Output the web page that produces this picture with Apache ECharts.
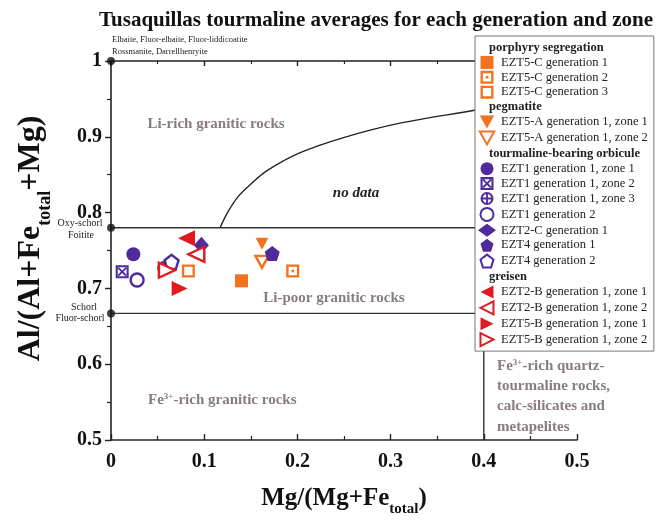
<!DOCTYPE html>
<html>
<head>
<meta charset="utf-8">
<script src="https://cdn.jsdelivr.net/npm/echarts@6/dist/echarts.min.js"></script>
<style>
  html, body { margin: 0; padding: 0; background: #fff; }
  #chart { width: 661px; height: 522px; }
</style>
</head>
<body>
<div id="chart"></div>
<script>
// Averages: [Mg/(Mg+Fe_total), Al/(Al+Fe_total+Mg)]
const EZT5C_G1 = [[0.140, 0.710]];
const EZT5C_G2 = [[0.195, 0.723]];
const EZT5C_G3 = [[0.083, 0.723]];
const EZT5A_G1Z1 = [[0.162, 0.759]];
const EZT5A_G1Z2 = [[0.162, 0.735]];
const EZT1_G1Z1 = [[0.024, 0.745]];
const EZT1_G1Z2 = [[0.012, 0.722]];
const EZT1_G1Z3 = [[0.057, 0.727]];
const EZT1_G2 = [[0.028, 0.711]];
const EZT2C_G1 = [[0.097, 0.757]];
const EZT4_G1 = [[0.173, 0.746]];
const EZT4_G2 = [[0.065, 0.735]];
const EZT2B_G1Z1 = [[0.081, 0.766]];
const EZT2B_G1Z2 = [[0.0915, 0.745]];
const EZT5B_G1Z1 = [[0.0736, 0.700]];
const EZT5B_G1Z2 = [[0.060, 0.724]];

// Field boundaries of the classification diagram
const oxySchorlLine = [[0, 0.78], [0.4, 0.78]];
const schorlLine = [[0, 0.667], [0.4, 0.667]];
const fe3Line = [[0.4, 0.5], [0.4, 1]];
const liRichCurveX = [0.117, 0.125, 0.137, 0.1495, 0.167, 0.203, 0.2496, 0.310, 0.3855, 0.40];
const liRichCurveY = [0.78, 0.800, 0.822, 0.837, 0.855, 0.879, 0.899, 0.918, 0.934, 0.937];
const lineStartDots = [[0, 1], [0, 0.78], [0, 0.667]];

const groupNames = ['porphyry segregation', 'pegmatite', 'tourmaline-bearing orbicule', 'greisen'];
const xTicks = [0, 0.5, 0.1];
const yTicks = [0.5, 1, 0.1];

const ORANGE = '#f2731f';
const PURPLE = '#4e2a9c';
const RED = '#e01b1f';
const SERIF = '"Liberation Serif", "DejaVu Serif", serif';

// Marker shapes
const SQ = 'path://M0,0 L10,0 L10,10 L0,10 Z';
const SQ_DOT = 'path://M0,0 L10,0 L10,10 L0,10 Z M1.8,1.8 L1.8,8.2 L8.2,8.2 L8.2,1.8 Z M4,4 L6,4 L6,6 L4,6 Z';
const SQ_RING = 'path://M0,0 L10,0 L10,10 L0,10 Z M1.8,1.8 L1.8,8.2 L8.2,8.2 L8.2,1.8 Z';
const SQ_CROSS = 'path://M0,0 L10,0 L10,10 L0,10 Z M1.6,1.6 L1.6,8.4 L8.4,8.4 L8.4,1.6 Z ' +
  'M1.5,2.5 L2.5,1.5 L8.5,7.5 L7.5,8.5 Z M7.5,1.5 L8.5,2.5 L2.5,8.5 L1.5,7.5 Z';
const CIRC_PLUS = 'path://M5,0 A5,5 0 1,1 5,10 A5,5 0 1,1 5,0 Z M5,1.6 A3.4,3.4 0 1,0 5,8.4 A3.4,3.4 0 1,0 5,1.6 Z ' +
  'M4.3,1.5 L5.7,1.5 L5.7,8.5 L4.3,8.5 Z M1.5,4.3 L8.5,4.3 L8.5,5.7 L1.5,5.7 Z';
const TRI_DOWN = 'path://M0,0 L10,0 L5,9 Z';
const TRI_LEFT = 'path://M0,5 L10,0 L10,10 Z';
const TRI_RIGHT = 'path://M0,0 L10,5 L0,10 Z';
const PENTAGON = 'path://M5,0 L10,3.8 L8.1,10 L1.9,10 L0,3.8 Z';

function filled(name, data, symbol, size, color) {
  return { type: 'scatter', name, data, symbol, symbolSize: size,
    itemStyle: { color, opacity: 1 }, z: 5 };
}
function hollow(name, data, symbol, size, color) {
  return { type: 'scatter', name, data, symbol, symbolSize: size,
    itemStyle: { color: '#fff', borderColor: color, borderWidth: 2.4, opacity: 1 }, z: 5 };
}

const pointSeries = [
  filled('EZT5-C generation 1', EZT5C_G1, SQ, 13, ORANGE),
  filled('EZT5-C generation 2', EZT5C_G2, SQ_DOT, 13, ORANGE),
  filled('EZT5-C generation 3', EZT5C_G3, SQ_RING, 13, ORANGE),
  filled('EZT5-A generation 1, zone 1', EZT5A_G1Z1, TRI_DOWN, [13, 12], ORANGE),
  hollow('EZT5-A generation 1, zone 2', EZT5A_G1Z2, TRI_DOWN, [13, 12], ORANGE),
  filled('EZT1 generation 1, zone 1', EZT1_G1Z1, 'circle', 14, PURPLE),
  filled('EZT1 generation 1, zone 2', EZT1_G1Z2, SQ_CROSS, 13, PURPLE),
  filled('EZT1 generation 1, zone 3', EZT1_G1Z3, CIRC_PLUS, 14, PURPLE),
  hollow('EZT1 generation 2', EZT1_G2, 'circle', 13, PURPLE),
  filled('EZT2-C generation 1', EZT2C_G1, 'diamond', [15, 17], PURPLE),
  filled('EZT4 generation 1', EZT4_G1, PENTAGON, 15, PURPLE),
  hollow('EZT4 generation 2', EZT4_G2, PENTAGON, 14, PURPLE),
  filled('EZT2-B generation 1, zone 1', EZT2B_G1Z1, TRI_LEFT, [17, 16], RED),
  hollow('EZT2-B generation 1, zone 2', EZT2B_G1Z2, TRI_LEFT, [16, 15], RED),
  filled('EZT5-B generation 1, zone 1', EZT5B_G1Z1, TRI_RIGHT, [16, 15], RED),
  hollow('EZT5-B generation 1, zone 2', EZT5B_G1Z2, TRI_RIGHT, [16, 15], RED)
];

// Legend order: group heading followed by its members
const legendLayout = [
  [groupNames[0], 0, 3],
  [groupNames[1], 3, 5],
  [groupNames[2], 5, 12],
  [groupNames[3], 12, 16]
];
const legendData = [];
legendLayout.forEach(([head, a, b]) => {
  legendData.push({ name: head, icon: 'rect',
    itemStyle: { color: 'rgba(0,0,0,0)', borderWidth: 0 },
    textStyle: { fontWeight: 'bold', padding: [0, 0, 0, -12] } });
  for (let i = a; i < b; i++) legendData.push({ name: pointSeries[i].name });
});

const boundaryStyle = { color: '#333', width: 1.4 };
const boundarySeries = [
  { type: 'line', data: oxySchorlLine, symbol: 'none', lineStyle: boundaryStyle, silent: true, z: 2 },
  { type: 'line', data: schorlLine, symbol: 'none', lineStyle: boundaryStyle, silent: true, z: 2 },
  { type: 'line', data: fe3Line, symbol: 'none', lineStyle: boundaryStyle, silent: true, z: 2 },
  { type: 'line', data: liRichCurveX.map((x, i) => [x, liRichCurveY[i]]), symbol: 'none',
    smooth: 0.3, lineStyle: { color: '#222', width: 1.4 }, silent: true, z: 2 },
  { type: 'scatter', data: lineStartDots, symbol: 'circle', symbolSize: 8,
    itemStyle: { color: '#111' }, clip: false, silent: true, z: 6 }
];
const headingSeries = groupNames.map(n => ({ type: 'scatter', name: n, data: [] }));

const labelFont = { fontFamily: SERIF, fontWeight: 'bold', fontSize: 20, color: '#111' };
const regionFill = '#8a7c7e';
const regionFont = 'bold 15px ' + SERIF;
function fe3Rich(size) {
  return {
    b: { fontFamily: SERIF, fontWeight: 'bold', fontSize: size, fill: regionFill, color: regionFill },
    sup: { fontFamily: SERIF, fontWeight: 'bold', fontSize: 9, fill: regionFill, color: regionFill, verticalAlign: 'top' }
  };
}
function note(text, x, y, align, size) {
  return { type: 'text', x, y, silent: true, z: 10,
    style: { text, font: (size || 10) + 'px ' + SERIF, fill: '#222', align: align || 'center', verticalAlign: 'middle' } };
}
function region(text, x, y, align) {
  return { type: 'text', x, y, silent: true, z: 1,
    style: { text, font: regionFont, fill: regionFill, align: align || 'center', verticalAlign: 'middle' } };
}

const chart = echarts.init(document.getElementById('chart'), null, { renderer: 'canvas' });
chart.setOption({
  animation: false,
  backgroundColor: '#fff',
  title: {
    text: 'Tusaquillas tourmaline averages for each generation and zone',
    left: 94, top: 5,
    textStyle: { fontFamily: SERIF, fontWeight: 'bold', fontSize: 21, color: '#111' }
  },
  grid: { left: 111, top: 61, width: 466, height: 379 },
  xAxis: [
    {
      type: 'value', min: xTicks[0], max: xTicks[1], interval: xTicks[2], position: 'bottom',
      name: '{b|Mg/(Mg+Fe}{s|total}{b|)}', nameLocation: 'middle', nameGap: 46,
      nameTextStyle: { rich: {
        b: { fontFamily: SERIF, fontWeight: 'bold', fontSize: 25, color: '#111' },
        s: { fontFamily: SERIF, fontWeight: 'bold', fontSize: 15, color: '#111', verticalAlign: 'bottom', padding: [0, 0, -6, 0] }
      } },
      axisLine: { show: true, onZero: false, lineStyle: { color: '#222', width: 1.6 } },
      axisTick: { show: true, inside: true, length: 6, lineStyle: { color: '#222', width: 1.4 } },
      minorTick: { show: true, splitNumber: 2, length: 4, lineStyle: { color: '#222', width: 1.2 } },
      axisLabel: Object.assign({ margin: 12 }, labelFont),
      splitLine: { show: false }
    },
    {
      type: 'value', min: xTicks[0], max: xTicks[1], interval: xTicks[2], position: 'top',
      axisLine: { show: true, onZero: false, lineStyle: { color: '#222', width: 1.6 } },
      axisTick: { show: true, inside: true, length: 5, lineStyle: { color: '#222', width: 1.4 } },
      minorTick: { show: true, splitNumber: 2, length: 3, lineStyle: { color: '#222', width: 1.2 } },
      axisLabel: { show: false },
      splitLine: { show: false }
    }
  ],
  yAxis: {
    type: 'value', min: yTicks[0], max: yTicks[1], interval: yTicks[2],
    name: '{b|Al/(Al+Fe}{s|total}{b|+Mg)}', nameLocation: 'middle', nameGap: 64,
    nameTextStyle: { padding: [0, 0, 0, 24], rich: {
      b: { fontFamily: SERIF, fontWeight: 'bold', fontSize: 32, color: '#111' },
      s: { fontFamily: SERIF, fontWeight: 'bold', fontSize: 18, color: '#111', verticalAlign: 'bottom', padding: [0, 0, -7, 0] }
    } },
    axisLine: { show: true, onZero: false, lineStyle: { color: '#222', width: 1.6 } },
    axisTick: { show: true, inside: false, length: 6, lineStyle: { color: '#222', width: 1.4 } },
    minorTick: { show: true, splitNumber: 2, length: 4, lineStyle: { color: '#222', width: 1.2 } },
    axisLabel: Object.assign({ margin: 9 }, labelFont),
    splitLine: { show: false }
  },
  legend: {
    orient: 'vertical', left: 475, top: 36,
    backgroundColor: '#fff', borderColor: '#777', borderWidth: 1, borderRadius: 0,
    padding: [5, 6, 4, 3],
    itemWidth: 18, itemHeight: 13, itemGap: 1.9,
    selectedMode: false,
    textStyle: { fontFamily: SERIF, fontSize: 12.5, color: '#222', lineHeight: 12 },
    data: legendData
  },
  graphic: [
    note('Elbaite, Fluor-elbaite, Fluor-liddicoatite', 112, 40, 'left', 8.5),
    note('Rossmanite, Darrellhenryite', 112, 52, 'left', 8.5),
    note('Oxy-schorl', 80, 223),
    note('Foitite', 81, 235),
    note('Schorl', 84, 307),
    note('Fluor-schorl', 80, 318),
    region('Li-rich granitic rocks', 216, 124),
    { type: 'text', x: 356, y: 193, silent: true, z: 1,
      style: { text: 'no data', font: 'italic bold 15px ' + SERIF, fill: '#222', align: 'center', verticalAlign: 'middle' } },
    region('Li-poor granitic rocks', 334, 298),
    { type: 'text', x: 148, y: 400, silent: true, z: 1,
      style: { text: '{b|Fe}{sup|3+}{b|-rich granitic rocks}', rich: fe3Rich(15), align: 'left', verticalAlign: 'middle' } },
    { type: 'text', x: 497, y: 366, silent: true, z: 1,
      style: { text: '{b|Fe}{sup|3+}{b|-rich quartz-}', rich: fe3Rich(15), align: 'left', verticalAlign: 'middle' } },
    region('tourmaline rocks,', 497, 386, 'left'),
    region('calc-silicates and', 497, 406, 'left'),
    region('metapelites', 497, 427, 'left')
  ],
  series: boundarySeries.concat(headingSeries, pointSeries)
});
</script>
</body>
</html>
